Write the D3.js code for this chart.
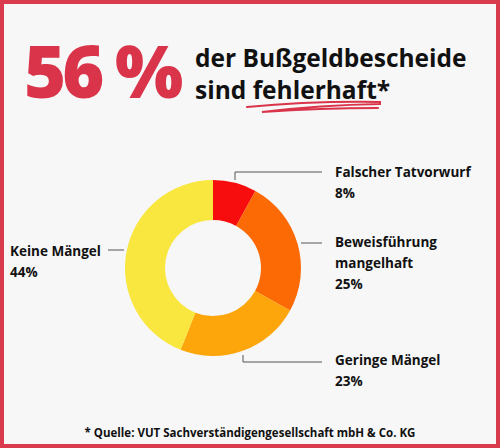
<!DOCTYPE html><html><head><meta charset="utf-8">
<script src="https://cdn.jsdelivr.net/npm/d3@7"></script>
<style>body{margin:0;background:#fff}</style></head><body><svg id="c" width="500" height="448"></svg>
<script>
const categories=["Falscher Tatvorwurf","Beweisführung mangelhaft","Geringe Mängel","Keine Mängel"];
const values=[8,25,23,44];
const colors=["#f70d0d","#fb6a05","#fca60c","#f9e73f"];
const svg=d3.select("#c");
svg.append("rect").attr("x",2).attr("y",2).attr("width",496).attr("height",444).attr("fill","#f7f7f7").attr("stroke","#d93a4e").attr("stroke-width",4);
const F="'Open Sans',sans-serif";
svg.append("text").attr("x",24).attr("y",98).attr("font-family",F).attr("font-weight",800).attr("font-size",72).attr("letter-spacing",-4).attr("fill","#d9344a").text("56 %");
svg.append("text").attr("x",195).attr("y",67).attr("font-family",F).attr("font-weight",700).attr("font-size",24.5).attr("fill","#111").text("der Bußgeldbescheide");
svg.append("text").attr("x",195).attr("y",99).attr("font-family",F).attr("font-weight",700).attr("font-size",24.5).attr("fill","#111").text("sind fehlerhaft*");
svg.append("path").attr("d","M247,107 Q310,101 380,102 L380,104 Q320,105 262,112 Q320,108 378,108").attr("stroke","#d9344a").attr("stroke-width",2).attr("fill","none").attr("stroke-linecap","round");
const cx=213,cy=268;
const pie=d3.pie().sort(null).value(d=>d)(values);
const arc=d3.arc().innerRadius(48).outerRadius(88);
const g=svg.append("g").attr("transform",`translate(${cx},${cy})`);
g.selectAll("path").data(pie).join("path").attr("d",arc).attr("fill",(d,i)=>colors[i]);
const ln=svg.append("g").attr("stroke","#555").attr("stroke-width",1).attr("fill","none");
ln.append("path").attr("d","M235,180 V172 H322");
ln.append("path").attr("d","M301,243 H322");
ln.append("path").attr("d","M243,355 V362 H322");
ln.append("path").attr("d","M108,250 H124");
const lab=[[335,177,["Falscher Tatvorwurf","8%"]],[335,247,["Beweisführung","mangelhaft","25%"]],[335,365,["Geringe Mängel","23%"]],[10,256,["Keine Mängel","44%"]]];
lab.forEach(([x,y,ls])=>{const t=svg.append("text").attr("font-family",F).attr("font-weight",700).attr("font-size",13.5).attr("fill","#111");
ls.forEach((s,i)=>t.append("tspan").attr("x",x).attr("y",y+i*21).text(s));});
svg.append("text").attr("x",250).attr("y",437).attr("text-anchor","middle").attr("font-family",F).attr("font-weight",700).attr("font-size",11.5).attr("fill","#111").text("* Quelle: VUT Sachverständigengesellschaft mbH & Co. KG");
</script></body></html>
